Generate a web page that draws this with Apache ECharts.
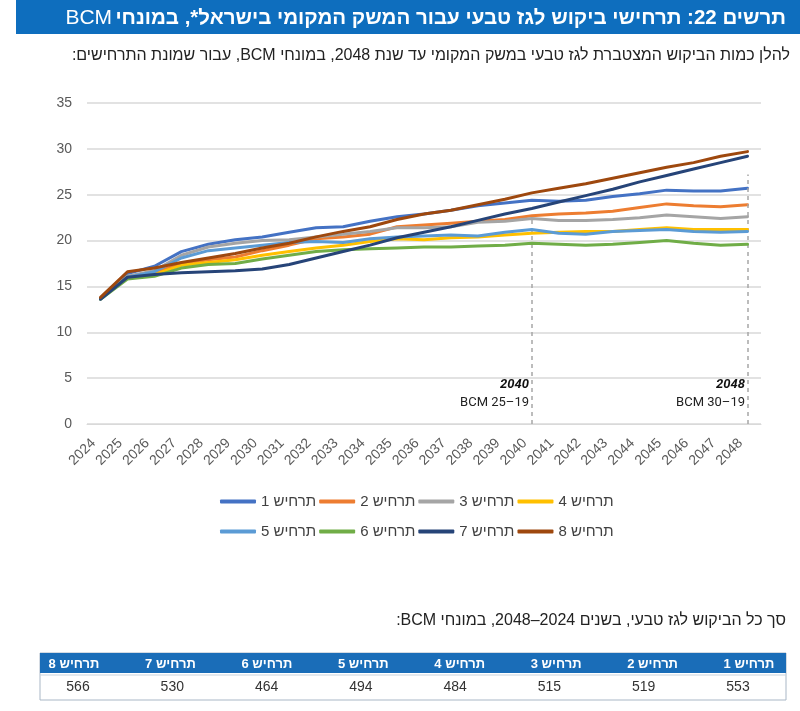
<!DOCTYPE html>
<html dir="rtl">
<head>
<meta charset="utf-8">
<script src="https://cdn.jsdelivr.net/npm/echarts@6/dist/echarts.min.js"></script>
<style>
html, body { margin: 0; padding: 0; background: #fff; }
#main { width: 800px; height: 711px; }
</style>
</head>
<body>
<div id="main"></div>
<script>
var years = ['2024', '2025', '2026', '2027', '2028', '2029', '2030', '2031', '2032', '2033', '2034', '2035', '2036',
    '2037', '2038', '2039', '2040', '2041', '2042', '2043', '2044', '2045', '2046', '2047', '2048'];

var names = ['תרחיש 1', 'תרחיש 2', 'תרחיש 3', 'תרחיש 4', 'תרחיש 5', 'תרחיש 6', 'תרחיש 7', 'תרחיש 8'];
var colors = ['#4472C4', '#ED7D31', '#A5A5A5', '#FFC000', '#5B9BD5', '#70AD47', '#264478', '#9E480E'];

var s1 = [13.7, 16.4, 17.2, 18.8, 19.6, 20.1, 20.4, 20.9, 21.4, 21.5, 22.1, 22.6, 22.9, 23.3, 23.8, 24.1, 24.4, 24.3, 24.4, 24.8, 25.1, 25.5, 25.4, 25.4, 25.7];
var s2 = [13.7, 16.0, 16.5, 17.5, 17.9, 18.2, 18.9, 19.5, 20.2, 20.4, 20.7, 21.5, 21.7, 21.9, 22.1, 22.3, 22.7, 22.9, 23.0, 23.2, 23.6, 24.0, 23.8, 23.7, 23.9];
var s3 = [13.7, 16.1, 16.7, 18.4, 19.3, 19.7, 20.0, 20.1, 20.4, 20.7, 21.0, 21.4, 21.4, 21.5, 22.0, 22.1, 22.4, 22.2, 22.2, 22.3, 22.5, 22.8, 22.6, 22.4, 22.6];
var s4 = [13.7, 16.0, 16.3, 17.3, 17.6, 17.9, 18.4, 18.8, 19.2, 19.5, 19.9, 20.2, 20.1, 20.3, 20.4, 20.6, 20.8, 20.9, 21.0, 21.0, 21.2, 21.4, 21.2, 21.2, 21.2];
var s5 = [13.7, 16.0, 16.6, 18.1, 18.9, 19.2, 19.5, 19.8, 19.9, 19.8, 20.2, 20.4, 20.5, 20.6, 20.5, 20.9, 21.2, 20.8, 20.7, 21.0, 21.1, 21.2, 21.0, 20.9, 21.0];
var s6 = [13.6, 15.8, 16.1, 17.0, 17.4, 17.5, 18.0, 18.4, 18.8, 19.0, 19.1, 19.2, 19.3, 19.3, 19.4, 19.5, 19.7, 19.6, 19.5, 19.6, 19.8, 20.0, 19.7, 19.5, 19.6];
var s7 = [13.6, 16.0, 16.3, 16.5, 16.6, 16.7, 16.9, 17.4, 18.1, 18.8, 19.5, 20.3, 20.9, 21.5, 22.2, 22.9, 23.5, 24.2, 24.9, 25.6, 26.4, 27.1, 27.8, 28.5, 29.2];
var s8 = [13.8, 16.6, 17.0, 17.6, 18.1, 18.6, 19.2, 19.7, 20.4, 21.0, 21.5, 22.3, 22.9, 23.3, 23.9, 24.5, 25.2, 25.7, 26.2, 26.8, 27.4, 28.0, 28.5, 29.2, 29.7];

// dashed markers and their notes
var markYears = ['2040', '2048'];
var markTops = [22.3, 27.2];
var markRanges = ['19–25 BCM', '19–30 BCM'];

// table of totals 2024-2048
var totals = [553, 519, 515, 484, 494, 464, 530, 566];

var titleMain = 'תרשים 22: תרחישי ביקוש לגז טבעי עבור המשק המקומי בישראל*, במונחי';
var titleUnit = 'BCM';
var subtitle = 'להלן כמות הביקוש המצטברת לגז טבעי במשק המקומי עד שנת 2048, במונחי BCM, עבור שמונת התרחישים:';
var tableTitle = 'סך כל הביקוש לגז טבעי, בשנים 2024–2048, במונחי BCM:';

var FONT = '"Liberation Sans", Arial, sans-serif';

function buildGraphic() {
    var g = [];
    g.push({ type: 'rect', shape: { x: 16, y: 0, width: 784, height: 34 }, style: { fill: '#0E6EBE' } });
    // unit drawn in a lighter weight at the left end of the RTL title
    g.push({
        type: 'text', x: 786, y: 18,
        style: {
            text: '{u|' + titleUnit + '} {m|' + titleMain + '}',
            fill: '#fff', align: 'right', verticalAlign: 'middle',
            rich: {
                u: { fill: '#fff', fontSize: 21, fontFamily: FONT, fontWeight: 'normal' },
                m: { fill: '#fff', fontSize: 20.5, fontFamily: FONT, fontWeight: 'bold' }
            }
        }
    });
    g.push({ type: 'text', x: 790, y: 56, style: { text: subtitle, fill: '#222', font: '16px ' + FONT, align: 'right', verticalAlign: 'middle' } });

    // notes at the dashed lines
    var noteX = [529, 745];
    for (var i = 0; i < markYears.length; i++) {
        g.push({ type: 'text', x: noteX[i], y: 385, style: { text: markYears[i], fill: '#111', font: 'italic bold 13px Roboto, ' + FONT, align: 'right', verticalAlign: 'middle' } });
        g.push({ type: 'text', x: noteX[i], y: 403, style: { text: markRanges[i], fill: '#222', font: '13px Roboto, ' + FONT, align: 'right', verticalAlign: 'middle' } });
    }

    // totals table
    g.push({ type: 'text', x: 786, y: 621, style: { text: tableTitle, fill: '#222', font: '16px ' + FONT, align: 'right', verticalAlign: 'middle' } });
    var tx = 40, tw = 746, hy = 653, hh = 20, rh = 27;
    g.push({ type: 'rect', shape: { x: tx, y: hy, width: tw, height: hh + rh }, style: { fill: '#fff', stroke: '#A9B7C6', lineWidth: 1 } });
    g.push({ type: 'rect', shape: { x: tx, y: hy, width: tw, height: hh }, style: { fill: '#1A6DB8' } });
    g.push({ type: 'line', shape: { x1: tx, y1: hy + hh + 2, x2: tx + tw, y2: hy + hh + 2 }, style: { stroke: '#C8D3DE', lineWidth: 1 } });
    var n = totals.length;
    for (var k = 0; k < n; k++) {
        // scenario 1 sits on the right
        var hx = 749 - k * (749 - 74) / (n - 1);
        var vx = 738 - k * (738 - 78) / (n - 1);
        g.push({ type: 'text', x: hx, y: hy + hh / 2 + 1, style: { text: names[k], fill: '#fff', font: 'bold 13px ' + FONT, align: 'center', verticalAlign: 'middle' } });
        g.push({ type: 'text', x: vx, y: hy + hh + rh / 2 + 1, style: { text: String(totals[k]), fill: '#333', font: '14px ' + FONT, align: 'center', verticalAlign: 'middle' } });
    }
    return g;
}

function chart22() {
    var myChart = echarts.init(document.getElementById('main'));
    var all = [s1, s2, s3, s4, s5, s6, s7, s8];
    var series = [];
    for (var i = 0; i < all.length; i++) {
        series.push({
            name: names[i],
            type: 'line',
            data: all[i],
            symbol: 'none',
            lineStyle: { width: 3, color: colors[i], cap: 'round', join: 'round' },
            itemStyle: { color: colors[i] },
            z: 2 + i
        });
    }
    series[0].markLine = {
        silent: true,
        symbol: 'none',
        label: { show: false },
        lineStyle: { type: [4, 4], color: '#A6A6A6', width: 1.5 },
        data: markYears.map(function(y, j) {
            return [{ coord: [y, 0] }, { coord: [y, markTops[j]] }];
        })
    };

    var legendBase = {
        left: 215,
        orient: 'horizontal',
        icon: 'roundRect',
        itemWidth: 36,
        itemHeight: 4,
        itemGap: 3,
        textStyle: { fontSize: 15, color: '#404040', fontFamily: FONT }
    };

    var option = {
        animation: false,
        backgroundColor: '#fff',
        color: colors,
        grid: { left: 87, right: 39, top: 103, bottom: 287 },
        legend: [
            Object.assign({ top: 489, data: names.slice(0, 4) }, legendBase),
            Object.assign({ top: 519, data: names.slice(4) }, legendBase)
        ],
        xAxis: {
            type: 'category',
            data: years,
            boundaryGap: true,
            axisLine: { show: true, lineStyle: { color: '#D9D9D9', width: 1 } },
            axisTick: { show: false },
            axisLabel: { rotate: 45, fontSize: 14, color: '#595959', margin: 10, padding: [0, 10, 0, 0], interval: 0, fontFamily: FONT }
        },
        yAxis: {
            type: 'value',
            min: 0,
            max: 35,
            interval: 5,
            axisLine: { show: false },
            axisTick: { show: false },
            splitLine: { lineStyle: { color: '#D9D9D9', width: 1.5 } },
            axisLabel: { fontSize: 14, color: '#595959', margin: 15, fontFamily: FONT }
        },
        graphic: buildGraphic(),
        series: series
    };
    myChart.setOption(option);
}

chart22();
</script>
</body>
</html>
